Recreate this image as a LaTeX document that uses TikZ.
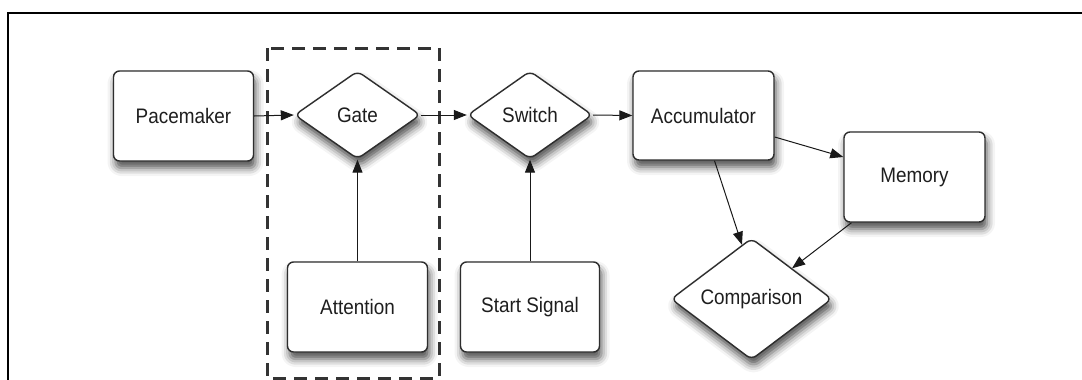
\documentclass[tikz,border=0pt]{standalone}
\usepackage{fontspec}
\setmainfont[FakeStretch=0.9]{Liberation Sans}
\usetikzlibrary{shapes.geometric,arrows.meta,shadows.blur}
\definecolor{edge}{HTML}{2E2E2E}
\definecolor{txt}{HTML}{1E1E1E}
\tikzset{
  shadowed/.style={blur shadow={shadow xshift=2pt,shadow yshift=-7pt,shadow blur radius=8pt,shadow opacity=70}},
  procbox/.style={draw=edge,line width=1.4pt,fill=white,rounded corners=6pt,inner sep=0pt,
    text=txt,font=\fontsize{21}{24}\selectfont,shadowed},
  decision/.style={draw=edge,line width=1.4pt,fill=white,diamond,rounded corners=6pt,inner sep=0pt,
    text=txt,font=\fontsize{21}{24}\selectfont,shadowed},
  flow/.style={draw=black!90,line width=1pt,-{Triangle[length=13pt,width=10pt]}},
  groupbox/.style={draw=black!80,line width=3pt,dash pattern=on 13pt off 8pt},
  frameline/.style={draw=black,line width=2.5pt}
}
\begin{document}
\begin{tikzpicture}[x=1pt,y=-1pt]
\useasboundingbox (0,0) rectangle (1082,380);
\draw[frameline] (8,382) -- (8,13) -- (1084,13);
\draw[groupbox] (267,48) rectangle (439,378);

\node[procbox,minimum width=140pt,minimum height=90pt] (pace) at (183.5,116) {Pacemaker};
\node[decision,minimum width=126pt,minimum height=88pt] (gate) at (357.5,115) {Gate};
\node[procbox,minimum width=140pt,minimum height=90pt] (att) at (357.5,307) {Attention};
\node[decision,minimum width=125pt,minimum height=88pt] (switch) at (530,115) {Switch};
\node[procbox,minimum width=139pt,minimum height=90pt] (start) at (530,307) {Start Signal};
\node[procbox,minimum width=141pt,minimum height=89pt] (acc) at (703.5,115.5) {Accumulator};
\node[procbox,minimum width=141pt,minimum height=90pt] (mem) at (914.5,177) {Memory};
\node[decision,minimum width=161pt,minimum height=116pt] (comp) at (751.5,299) {Comparison};

\draw[flow] (pace.east) -- (gate.west);
\draw[flow] (gate.east) -- (switch.west);
\draw[flow] (switch.east) -- (acc.west);
\draw[flow] (att.north) -- (gate.south);
\draw[flow] (start.north) -- (switch.south);
\draw[flow] ([yshift=-21.5pt]acc.east) -- ([yshift=20pt]mem.west);
\draw[flow] ([xshift=11pt]acc.south) -- (comp.100);
\draw[flow] ([xshift=-63pt]mem.south) -- (comp.north east);
\end{tikzpicture}
\end{document}
